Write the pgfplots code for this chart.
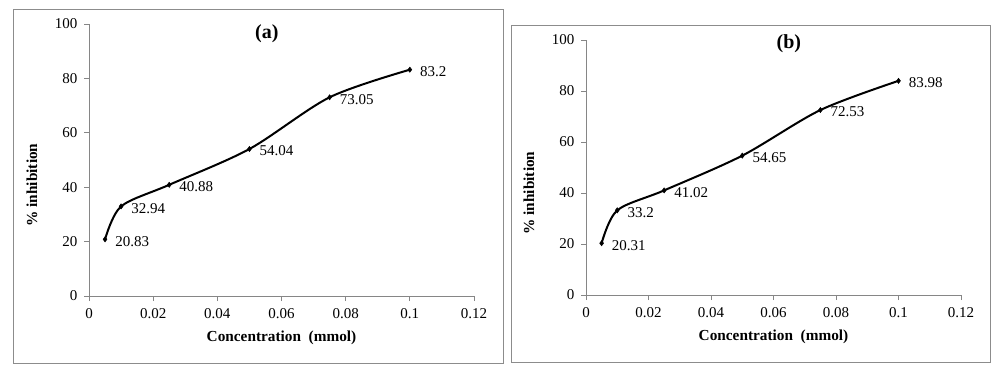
\documentclass[border=0pt]{standalone}
\usepackage{pgfplots}
\pgfplotsset{compat=1.18}
\usepackage{pgfplotstable}
\usepackage{fontspec}
\setmainfont{Liberation Serif}
\definecolor{axgray}{HTML}{868686}
\definecolor{boxgray}{HTML}{8C8C8C}

\pgfplotstableread{
x y lab
0.005 20.83 20.83
0.01 32.94 32.94
0.025 40.88 40.88
0.05 54.04 54.04
0.075 73.05 73.05
0.1 83.2 83.2
}\dataA
\pgfplotstableread{
x y lab
0.005 20.31 20.31
0.01 33.2 33.2
0.025 41.02 41.02
0.05 54.65 54.65
0.075 72.53 72.53
0.1 83.98 83.98
}\dataB

\pgfplotsset{
  panel/.style={
    scale only axis,
    clip=false,
    xmin=0, xmax=0.12, ymin=0, ymax=100,
    xtick={0,0.02,0.04,0.06,0.08,0.1,0.12},
    ytick={0,20,40,60,80,100},
    scaled x ticks=false,
    xticklabel style={/pgf/number format/fixed,/pgf/number format/precision=2, yshift=-4pt},
    yticklabel style={xshift=-3pt},
    /pgf/number format/assume math mode=true,
    axis x line*=bottom, axis y line*=left,
    axis line style={draw=axgray, line width=0.8pt},
    tick style={draw=axgray, line width=0.8pt},
    tick align=outside,
    major tick length=5pt,
    tick label style={font=\fontsize{15}{17}\selectfont, text=black},
    label style={font=\bfseries\fontsize{15.3}{17}\selectfont},
    every axis title shift=0pt,
    title style={font=\bfseries\fontsize{20}{22}\selectfont, anchor=center},
  },
  curve/.style={
    black, line width=2pt, smooth, tension=0.5,
    mark=diamond*, mark size=2.6pt, mark options={solid, fill=black, line width=0.5pt},
    point meta=explicit symbolic,
    nodes near coords={\pgfplotspointmeta},
    every node near coord/.append style={anchor=west, inner sep=0pt, xshift=10pt, yshift=-2pt, font=\fontsize{15}{17}\selectfont, text=black},
  },
}

\begin{document}
\begin{tikzpicture}[x=1pt,y=1pt]
\path[use as bounding box] (0,0) rectangle (1001,375);
\draw[boxgray, line width=0.9pt] (13,12) rectangle (503,366);
\draw[boxgray, line width=0.9pt] (511,13) rectangle (990,350);

\begin{axis}[panel,
  at={(89pt,79pt)}, anchor=south west,
  width=385pt, height=272pt,
  title={(a)},
  title style={at={(axis description cs:0.462,0.963)}},
  xlabel={Concentration\ \ (mmol)},
  xlabel style={at={(axis description cs:0.50,-0.154)}, anchor=center},
  ylabel={\% inhibition},
  ylabel style={at={(axis description cs:-0.148,0.408)}, anchor=center},
]
\addplot[curve] table[x=x, y=y, meta=lab] {\dataA};
\end{axis}

\begin{axis}[panel,
  at={(586pt,80pt)}, anchor=south west,
  width=375pt, height=255pt,
  title={(b)},
  title style={at={(axis description cs:0.541,0.984)}},
  xlabel={Concentration\ \ (mmol)},
  xlabel style={at={(axis description cs:0.50,-0.165)}, anchor=center},
  ylabel={\% inhibition},
  ylabel style={at={(axis description cs:-0.152,0.40)}, anchor=center},
]
\addplot[curve] table[x=x, y=y, meta=lab] {\dataB};
\end{axis}
\end{tikzpicture}
\end{document}
